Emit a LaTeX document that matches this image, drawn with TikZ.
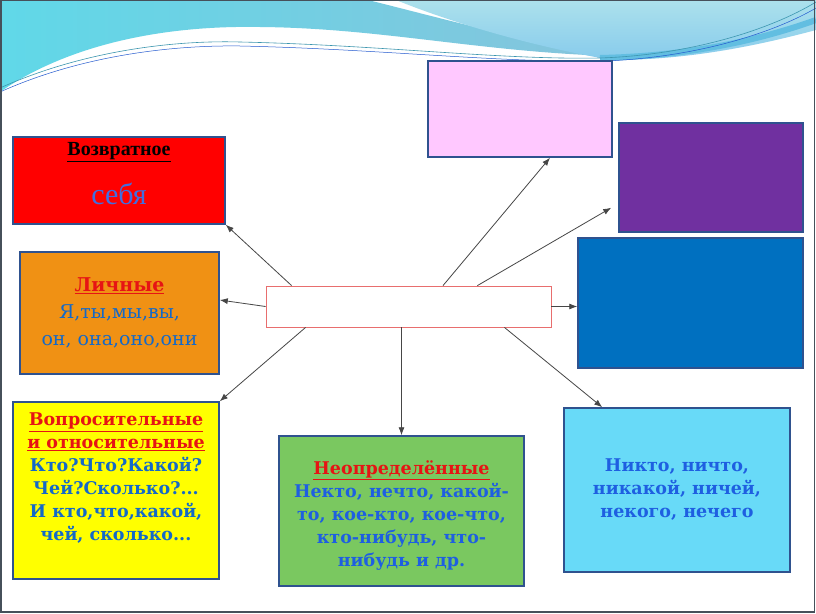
\documentclass[tikz,border=0pt]{standalone}
\usepackage{fontspec}
\setmainfont{Liberation Serif}
\newfontfamily\cambr{DejaVu Serif}
\usetikzlibrary{arrows.meta,calc}

\definecolor{boxline}{RGB}{47,82,143}
\definecolor{hubline}{RGB}{232,110,110}
\definecolor{msgline}{RGB}{70,70,70}
\definecolor{framegray}{RGB}{70,80,90}
\definecolor{redfill}{RGB}{255,0,0}
\definecolor{orangefill}{RGB}{240,145,20}
\definecolor{yellowfill}{RGB}{255,255,0}
\definecolor{greenfill}{RGB}{122,200,96}
\definecolor{skyfill}{RGB}{104,218,248}
\definecolor{bluefill}{RGB}{0,112,192}
\definecolor{purplefill}{RGB}{112,48,160}
\definecolor{pinkfill}{RGB}{255,200,255}
\definecolor{txtblue}{RGB}{20,105,200}
\definecolor{txtbright}{RGB}{30,95,225}
\definecolor{txtred}{RGB}{230,20,20}
\definecolor{sebyablue}{RGB}{65,110,225}
\definecolor{waveA}{RGB}{134,196,220}
\definecolor{waveAcyan}{RGB}{96,216,232}
\definecolor{waveB}{RGB}{172,225,236}
\definecolor{waveBlow}{RGB}{135,203,236}
\definecolor{waveband}{RGB}{98,190,225}
\definecolor{waveline}{RGB}{60,150,175}

\tikzstyle{slot}=[draw=boxline, line width=1.5pt, inner sep=0pt, align=center]
\tikzstyle{boldtext}=[font={\cambr\bfseries\fontsize{17.5}{23}\selectfont}]
\tikzstyle{msg}=[-{Latex[length=8pt,width=6pt]}, draw=msgline, line width=0.8pt]

\begin{document}
\begin{tikzpicture}[x=1pt, y=-1pt]
    \useasboundingbox (0,0) rectangle (816,613);
    \fill[white] (0,0) rectangle (816,613);
    \shade[left color=waveAcyan, right color=waveA] (0,0) -- (368,0) .. controls (440,18) and (520,40) .. (612,56) .. controls (480,52) and (380,28) .. (260,27) .. controls (150,25) and (60,50) .. (0,92) -- cycle;
    \shade[top color=waveB, bottom color=waveBlow] (396,0) -- (816,0) -- (816,30) .. controls (760,45) and (690,60) .. (612,60) .. controls (530,46) and (450,22) .. (396,0) -- cycle;
    \draw[waveband, line width=6pt] (600,58) .. controls (690,56) and (760,40) .. (816,20);
    \draw[waveline, line width=0.6pt] (0,88) .. controls (80,52) and (170,40) .. (240,42) .. controls (380,45) and (500,60) .. (600,58) .. controls (690,55) and (770,30) .. (816,2);
    \draw[waveline!60!blue, line width=0.5pt] (0,92) .. controls (80,56) and (170,45) .. (240,46) .. controls (380,49) and (500,63) .. (604,61) .. controls (690,58) and (770,35) .. (816,8);
    \draw[framegray, line width=1.2pt] (1,0.6) rectangle (814.5,612);

    \node[slot, fill=redfill, minimum width=212pt, minimum height=87pt, font={\bfseries\fontsize{20}{22}\selectfont}] (refl) at (119,180.5) {\underline{Возвратное}\\[20pt]{\mdseries\fontsize{30}{32}\selectfont\color{sebyablue}себя}\\[-8pt]\mbox{}};
    \node[slot, fill=orangefill, minimum width=199pt, minimum height=122pt, font={\cambr\fontsize{19}{27}\selectfont}] (pers) at (119.5,313) {\textbf{\color{txtred}\underline{Личные}}\\\color{txtblue}Я,ты,мы,вы,\\\color{txtblue}он, она,оно,они};
    \node[slot, boldtext, fill=yellowfill, minimum width=206pt, minimum height=177pt] (quest) at (116,490.5) {\color{txtred}\underline{Вопросительные}\\\color{txtred}\underline{и относительные}\\\color{txtblue}Кто?Что?Какой?\\\color{txtblue}Чей?Сколько?...\\\color{txtblue}И кто,что,какой,\\\color{txtblue}чей, сколько...\\[4pt]\mbox{}};
    \node[slot, boldtext, fill=greenfill, minimum width=245pt, minimum height=150pt] (indef) at (401.5,511) {\color{txtred}\underline{Неопределённые}\\\color{txtbright}Некто, нечто, какой-\\\color{txtbright}то, кое-кто, кое-что,\\\color{txtbright}кто-нибудь, что-\\\color{txtbright}нибудь и др.\\[-28pt]\mbox{}};
    \node[slot, boldtext, fill=skyfill, minimum width=226pt, minimum height=164pt] (neg) at (677,490) {\color{txtbright}Никто, ничто,\\\color{txtbright}никакой, ничей,\\\color{txtbright}некого, нечего};
    \node[slot, fill=bluefill, minimum width=225pt, minimum height=130pt] (poss) at (690.5,303) {};
    \node[slot, fill=purplefill, minimum width=184pt, minimum height=109pt] (demo) at (711,177.5) {};
    \node[slot, fill=pinkfill, minimum width=184pt, minimum height=96pt] (attr) at (520,109) {};
    \node[draw=hubline, line width=0.8pt, fill=white, minimum width=285pt, minimum height=41pt] (hub) at (408.5,306.5) {};

    \draw[msg] ($(hub.north west)+(26,0)$) -- (refl.south east);
    \draw[msg] (hub.west) -- ($(pers.east)+(0,-13)$);
    \draw[msg] ($(hub.south west)+(40,0)$) -- (quest.north east);
    \draw[msg] (indef.north |- hub.south) -- (indef.north);
    \draw[msg] ($(hub.south east)+(-47,0)$) -- ($(neg.north west)+(39,0)$);
    \draw[msg] (hub.east) -- (hub.east -| poss.west);
    \draw[msg] ($(hub.north)+(34.5,0)$) -- ($(attr.south)+(30,0)$);
    \draw[msg] ($(hub.north east)+(-74,0)$) -- ($(demo.south west)+(-7,-25)$);
\end{tikzpicture}
\end{document}
